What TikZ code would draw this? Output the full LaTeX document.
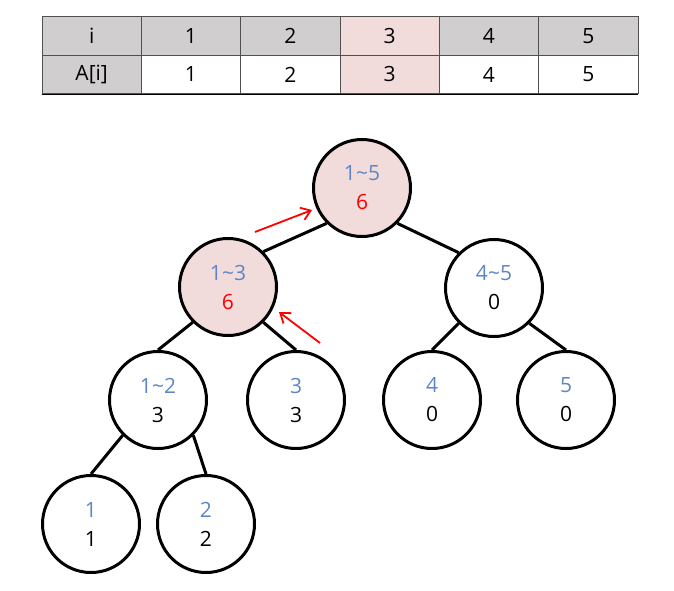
\documentclass[tikz,border=0pt]{standalone}
\usepackage{fontspec}
\setmainfont{Open Sans}
\usetikzlibrary{arrows.meta}

\definecolor{rangeblue}{HTML}{5B87C8}
\definecolor{hitpink}{HTML}{F2DCDB}
\definecolor{headgray}{HTML}{D0CECE}
\definecolor{gridgray}{HTML}{505050}

\tikzset{
	every cell/.style={rectangle, draw=gridgray, line width=0.8pt, minimum width=99.33pt, minimum height=38.5pt, inner sep=0pt, font=\fontsize{21}{25}\selectfont},
	every seg/.style={circle, draw, line width=3pt, minimum size=97pt, inner sep=0pt, align=center, font=\fontsize{21}{29}\selectfont},
	seg hit/.style={fill=hitpink},
	seg edge/.style={line width=3pt},
	climb/.style={red, line width=1.8pt, -{Straight Barb[length=9pt, width=13pt]}},
}

\begin{document}
\begin{tikzpicture}[x=1pt, y=-1pt]
	\useasboundingbox (0,0) rectangle (674,591);
	
	% array table
	\foreach \v/\f [count=\c from 0] in {i/headgray, 1/headgray, 2/headgray, 3/hitpink, 4/headgray, 5/headgray}
	\node [every cell, fill=\f] (head-\c) at (91.67+\c*99.33,36) {\v};
	
	\foreach \v/\f [count=\c from 0] in {A[i]/headgray, 1/white, 2/white, 3/hitpink, 4/white, 5/white}
	\node [every cell, fill=\f] (val-\c) at (91.67+\c*99.33,74.5) {\v};
	
	\draw [line width=1pt] (val-0.south west) -- (val-5.south east);
	
	% segment tree
	\foreach \n/\x/\y/\r in {15/362/188/1\textasciitilde5, 13/228/287/1\textasciitilde3}
	\node [every seg, seg hit] (seg-\n) at (\x,\y) {\textcolor{rangeblue}{\r}\\\textcolor{red}{6}};
	
	\foreach \n/\x/\y/\r/\s in {45/494/288/4\textasciitilde5/0, 12/158/400/1\textasciitilde2/3, 3/296/400/3/3, 4/432/400/4/0, 5/566/400/5/0, 1/91/524/1/1, 2/206/524/2/2}
	\node [every seg] (seg-\n) at (\x,\y) {\textcolor{rangeblue}{\r}\\\s};
	
	\draw [seg edge] (seg-15.south west) -- (seg-13.north east);
	\draw [seg edge] (seg-15.south east) -- (seg-45.north west);
	
	\foreach \p/\l/\r in {13/12/3, 45/4/5, 12/1/2} {
		\draw [seg edge] (seg-\p.south west) -- (seg-\l.north);
		\draw [seg edge] (seg-\p.south east) -- (seg-\r.north);
	}
	
	% update path
	\coordinate (up1-from) at (255,232);
	\coordinate (up1-to) at (312,210);
	\coordinate (up2-from) at (320,343);
	\coordinate (up2-to) at (279,312);
	\draw [climb] (up1-from) -- (up1-to);
	\draw [climb] (up2-from) -- (up2-to);
\end{tikzpicture}
\end{document}
